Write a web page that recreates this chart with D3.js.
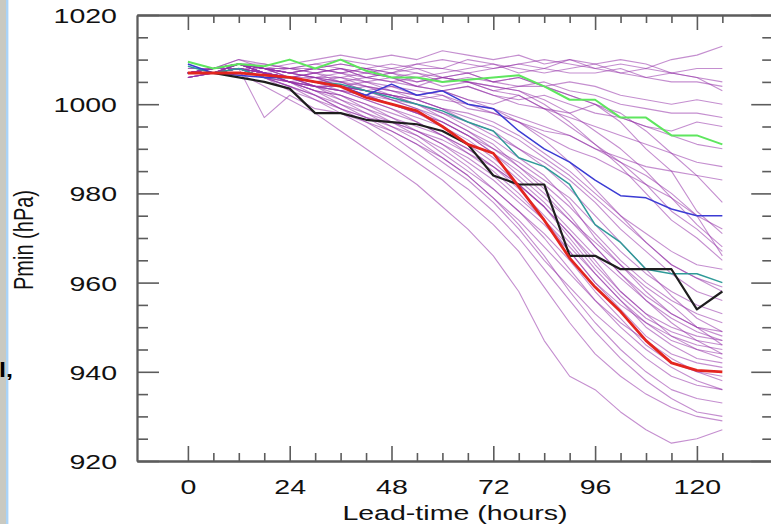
<!DOCTYPE html>
<meta charset="utf-8">
<style>
body { margin: 0; background: #fff; }
svg { display: block; font-family: "Liberation Sans", Arial, Helvetica, sans-serif; }
.axis path, .axis line { stroke: #5c5c5c; }
</style>
<svg width="771" height="524"></svg>
<script src="https://d3js.org/d3.v7.min.js"></script>
<script>

// lead times (hours)
var hours = [0, 6, 12, 18, 24, 30, 36, 42, 48, 54, 60, 66, 72, 78, 84, 90, 96, 102, 108, 114, 120, 126];

// highlighted runs
var obs   = [1007,1007,1006,1005,1003.5,998,998,996.5,996,995.5,994,991,984,982,982,966,966,963,963,963,954,958];
var red   = [1007,1007,1007,1006.5,1006,1005,1004,1001.5,1000,998.5,995,991,989,981.5,974,965.5,959,953.5,947,942,940.3,940];
var blue  = [1009,1007,1006.5,1006,1006,1005,1004,1002,1004.5,1002,1003,1000,999,994,990,987,983,979.5,979,976.5,975,975];
var green = [1009.5,1008,1009,1008.5,1010,1008,1010,1007.5,1006,1006,1005,1005.5,1006,1006.5,1004,1001,1001,997,997,993,993,991];
var teal  = [1008.5,1007,1008,1006,1006,1005,1004.5,1003,1001.5,1000,998.5,996,994,988,986,982,973,969,963,962,962,960];

// ensemble members (purple)
var members = [
  [1007,1008,1009,1008,1009,1010,1011,1010,1011,1010,1012,1011,1010,1011,1009,1010,1008,1009,1008,1010,1011,1013],
  [1007,1008,1009,1009,1008,1009,1010,1009,1008,1009,1010,1009,1008,1009,1010,1009,1008,1007,1008,1007,1008,1008],
  [1007,1007,1008,1007,1008,1008,1009,1008,1009,1008,1008,1007,1008,1009,1008,1007,1007,1008,1006,1007,1006,1005],
  [1007,1008,1009,1008,1007,1008,1007,1008,1007,1009,1008,1010,1009,1008,1007,1008,1009,1007,1006,1005,1005,1004],
  [1006,1007,1008,1007,1006,1007,1008,1006,1007,1006,1007,1008,1009,1007,1008,1010,1009,1010,1009,1007,1006,1003],
  [1007,1007,1009,1008,1007,1006,1006,1007,1006,1005,1006,1007,1005,1006,1004,1005,1004,1002,1001,1000,1001,1000],
  [1007,1008,1008,1007,1006,1007,1005,1006,1005,1004,1006,1005,1003,1004,1005,1003,1002,1000,999,998,998,997],
  [1006,1007,1008,1006,1005,1006,1004,1003,1004,1002,1003,1004,1002,1001,1002,1000,998,997,995,994,996,995],
  [1007,1007,1009,1007,1006,1005,1004,1005,1003,1002,1003,1001,1000,1002,999,998,1000,997,995,993,991,990],
  [1007,1007,1008,1006,1005,1004,1003,1004,1002,1001,1002,999,998,996,994,993,990,988,986,985,984,983],
  [1007,1008,1009,1008,1007,1006,1007,1005,1006,1004,1003,1004,1002,1000,999,997,995,993,991,989,987,986],
  [1007,1007,1008,1007,1006,1005,1006,1004,1003,1002,1001,1000,998,996,993,990,988,985,982,979,975,972],
  [1007,1008,1009,1008,1008,1007,1008,1006,1007,1005,1006,1005,1004,1003,1001,998,994,990,985,979,973,968],
  [1007,1007,1008,1008,1007,1008,1007,1006,1005,1006,1004,1005,1003,1002,999,995,991,987,982,976,972,967],
  [1008,1008,1010,1009,1008,1007,1008,1007,1008,1007,1006,1007,1005,1006,1004,1002,1000,996,990,985,976,971],
  [1007,1008,1009,1007,1006,1007,1006,1005,1004,1003,1002,1000,999,997,995,993,990,987,984,980,975,966],
  [1007,1008,1009,1008,1008,1009,1008,1007,1006,1004,1003,1001,999,996,992,987,981,975,969,964,961,958],
  [1007,1008,1009,1008,1007,1008,1009,1008,1007,1008,1006,1005,1004,1003,1000,996,991,986,980,974,970,965],
  [1008,1008,1009,1008,1007,1008,1007,1008,1006,1007,1005,1006,1005,1004,1004,1002,1000,998,994,989,984,978],
  [1007,1007,1009,1007,1006,1005,1004,1002,1001,999,997,994,991,986,982,977,971,965,960,956,953,951],
  [1007,1008,1009,1008,1006,1005,1003,1002,1000,998,996,993,989,985,980,974,968,962,957,953,950,948],
  [1006,1007,1008,1007,1005,1004,1004,1003,1001,999,996,993,990,987,983,979,973,967,962,958,955,953],
  [1007,1007,1009,1007,1006,1006,1005,1003,1002,1000,998,995,992,988,984,978,970,964,959,955,950,946],
  [1007,1008,1010,1008,1007,1006,1005,1004,1003,1001,999,996,994,990,986,981,975,969,963,957,952,949],
  [1007,1007,1008,1006,1005,1004,1003,1001,999,997,995,992,988,983,978,972,966,961,956,952,949,947],
  [1007,1008,1009,1007,1006,1005,1005,1003,1002,1001,999,997,995,992,988,984,979,974,969,964,961,959],
  [1006,1007,1009,1007,1006,1004,1003,1002,1000,998,995,991,987,982,977,971,965,958,953,948,945,943],
  [1007,1007,1008,1007,1006,1005,1004,1003,1001,1000,998,996,993,990,987,983,978,972,967,962,958,956],
  [1007,1008,1009,1008,1007,1006,1004,1003,1002,1000,997,994,990,986,981,975,968,962,956,951,947,944],
  [1007,1007,1009,1008,1006,1005,1004,1002,1000,998,996,993,989,984,979,974,969,964,958,953,950,949],
  [1007,1007,1008,1007,1006,1004,1004,1003,1002,1001,999,998,996,993,989,985,980,975,971,967,964,963],
  [1007,1007,1007,1004,1001,998,994,990,986,982,977,972,966,958,947,939,936,931,927,924,925,927],
  [1007,1007,1008,1006,1003,1001,998,995,991,987,983,978,973,967,959,951,944,939,935,932,930,929],
  [1007,1008,1008,1007,1005,1002,999,996,993,989,985,981,976,970,963,956,949,943,938,934,931,930],
  [1007,1007,1009,1007,1005,1003,1001,998,995,992,988,984,979,973,966,958,951,945,940,936,934,933],
  [1006,1007,1008,1006,1004,1002,999,997,994,991,987,983,978,972,965,959,953,948,943,939,937,936],
  [1007,1008,1009,1007,1005,1003,1000,997,995,993,990,986,981,976,970,963,956,950,945,941,938,936],
  [1007,1007,1008,1006,1004,1001,999,997,996,993,989,985,981,976,971,965,958,952,946,942,940,938],
  [1007,1007,1009,1008,1006,1004,1002,1000,997,994,991,987,983,978,973,967,960,954,948,944,942,941],
  [1007,1008,1008,1007,1005,1003,1002,999,997,995,993,990,986,981,975,969,962,956,950,946,943,942],
  [1007,1007,1008,1007,1005,1004,1001,999,996,994,991,988,984,979,974,968,962,956,951,947,945,944],
  [1006,1007,1009,1007,1006,1004,1003,1001,999,996,993,989,985,980,974,967,960,955,951,948,946,945],
  [1007,1007,1008,1006,1004,1002,1000,998,996,994,992,989,986,982,977,970,963,957,952,949,947,946],
  [1007,1007,1008,997,1002,999,998,996,994,991,988,984,979,974,968,962,956,951,947,943,940,939],
  [1007,1008,1009,1007,1005,1003,1002,1000,998,996,993,990,986,982,977,971,964,958,953,950,948,947]
];

var yMajor = [920, 940, 960, 980, 1000, 1020];
var xMajor = [0, 24, 48, 72, 96, 120];

var svg = d3.select("svg"),
    sx = 1.36; // the picture is stretched sideways, so is its text

var x = d3.scaleLinear().domain([-12, 138]).range([137, 773.25]),
    y = d3.scaleLinear().domain([920, 1020]).range([461, 15]);

var yMinor = d3.range(920, 1021, 5).filter(function(v) { return yMajor.indexOf(v) < 0; }),
    xMinor = hours.filter(function(v) { return xMajor.indexOf(v) < 0; });

// window edge left of the figure
svg.append("rect").attr("x", 0).attr("y", 0).attr("width", 6).attr("height", 524).attr("fill", "#c9c9c1");
svg.append("rect").attr("x", 6).attr("y", 0).attr("width", 2.4).attr("height", 524).attr("fill", "#aad3f7");
svg.append("text")
    .attr("transform", "translate(-1,377) scale(1.2,1)")
    .attr("font-size", 21)
    .attr("font-weight", "bold")
    .text("l,");

var line = d3.line()
    .x(function(d, i) { return x(hours[i]); })
    .y(function(d) { return y(d); });

svg.append("g").selectAll("path")
    .data(members)
  .enter().append("path")
    .attr("d", line)
    .attr("fill", "none")
    .attr("stroke", "#9331a8")
    .attr("stroke-opacity", 0.55)
    .attr("stroke-width", 1.1)
    .attr("stroke-linejoin", "round");

var runs = [
  {v: teal,  c: "#2f9a98", w: 1.5},
  {v: blue,  c: "#3b3bd3", w: 1.5},
  {v: green, c: "#5ee65e", w: 2},
  {v: obs,   c: "#1e1e1e", w: 2.2},
  {v: red,   c: "#e3251f", w: 2.8}
];

svg.append("g").selectAll("path")
    .data(runs)
  .enter().append("path")
    .attr("d", function(d) { return line(d.v); })
    .attr("fill", "none")
    .attr("stroke", function(d) { return d.c; })
    .attr("stroke-width", function(d) { return d.w; })
    .attr("stroke-linejoin", "round");

// frame and ticks (all ticks point inward)
function axis(gen, tx, ty) {
  var g = svg.append("g").attr("class", "axis").attr("transform", "translate(" + tx + "," + ty + ")").call(gen);
  g.selectAll("path").attr("stroke-width", 1.8);
  g.selectAll("line").attr("stroke-width", 1.6);
  return g;
}

var left = axis(d3.axisLeft(y).tickValues(yMajor).tickFormat(d3.format("d")).tickSize(-22).tickSizeOuter(0).tickPadding(20), x(-12), 0);
axis(d3.axisLeft(y).tickValues(yMinor).tickSize(-11).tickSizeOuter(0).tickFormat(""), x(-12), 0);
axis(d3.axisRight(y).tickValues(yMajor).tickSize(-22).tickSizeOuter(0).tickFormat(""), x(138), 0);
axis(d3.axisRight(y).tickValues(yMinor).tickSize(-11).tickSizeOuter(0).tickFormat(""), x(138), 0);
var bottom = axis(d3.axisBottom(x).tickValues(xMajor).tickFormat(d3.format("d")).tickSize(-15).tickSizeOuter(0), 0, y(920));
axis(d3.axisBottom(x).tickValues(xMinor).tickSize(-8).tickSizeOuter(0).tickFormat(""), 0, y(920));
axis(d3.axisTop(x).tickValues(xMajor).tickSize(-15).tickSizeOuter(0).tickFormat(""), 0, y(1020));
axis(d3.axisTop(x).tickValues(xMinor).tickSize(-8).tickSizeOuter(0).tickFormat(""), 0, y(1020));

left.selectAll("text")
    .attr("font-size", 21)
    .attr("font-family", null)
    .attr("fill", "#111")
    .attr("x", -20 / sx)
    .attr("dy", "0.36em")
    .attr("transform", "scale(" + sx + ",1)");

bottom.selectAll("text")
    .attr("font-size", 21)
    .attr("font-family", null)
    .attr("fill", "#111")
    .attr("y", 33)
    .attr("dy", 0)
    .attr("transform", "scale(" + sx + ",1)");

svg.append("text")
    .attr("text-anchor", "middle")
    .attr("transform", "translate(455,520) scale(" + sx + ",1)")
    .attr("font-size", 21)
    .attr("fill", "#111")
    .text("Lead-time (hours)");

svg.append("text")
    .attr("text-anchor", "middle")
    .attr("transform", "translate(33,240) scale(" + sx + ",1) rotate(-90)")
    .attr("font-size", 20)
    .attr("fill", "#111")
    .text("Pmin (hPa)");

</script>
